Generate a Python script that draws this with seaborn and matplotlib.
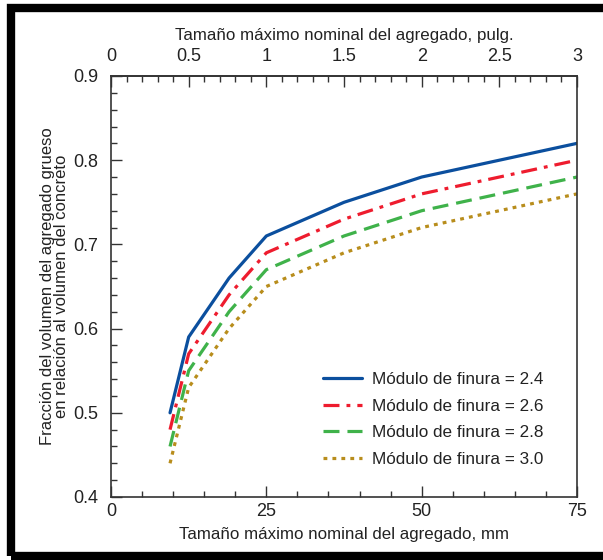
import matplotlib
matplotlib.use("Agg")
import matplotlib.pyplot as plt
from matplotlib.patches import Rectangle
from matplotlib.ticker import MultipleLocator, FormatStrFormatter, FuncFormatter
import pandas as pd
import seaborn as sns

# Nominal maximum aggregate size (mm) and bulk volume fraction of coarse aggregate
sizes_mm = [9.5, 12.5, 19, 25, 37.5, 50, 75]
fm_24 = [0.50, 0.59, 0.66, 0.71, 0.75, 0.78, 0.82]
fm_26 = [0.48, 0.57, 0.64, 0.69, 0.73, 0.76, 0.80]
fm_28 = [0.46, 0.55, 0.62, 0.67, 0.71, 0.74, 0.78]
fm_30 = [0.44, 0.53, 0.60, 0.65, 0.69, 0.72, 0.76]
series_labels = ["Módulo de finura = 2.4", "Módulo de finura = 2.6",
                 "Módulo de finura = 2.8", "Módulo de finura = 3.0"]

sns.set_theme(style="white")
plt.rcParams["font.family"] = ["Liberation Sans", "DejaVu Sans"]

rows = []
for lab, vals in zip(series_labels, [fm_24, fm_26, fm_28, fm_30]):
    for s, v in zip(sizes_mm, vals):
        rows.append({"size": s, "frac": v, "serie": lab})
df = pd.DataFrame(rows)

palette = dict(zip(series_labels, ["#0b4f9e", "#ee1c2e", "#3fb24a", "#b88d1c"]))
dashes = dict(zip(series_labels, ["", (5, 2.2, 1.2, 2.2), (5, 2.5), (1.2, 1.6)]))

fig = plt.figure(figsize=(6.03, 5.60), dpi=100)
ax = fig.add_axes([111 / 603, 1 - 497 / 560, 466 / 603, 421 / 560])

sns.lineplot(data=df, x="size", y="frac", hue="serie", style="serie",
             palette=palette, dashes=dashes, linewidth=2.3, ax=ax,
             legend=True)

ax.set_xlim(0, 75)
ax.set_ylim(0.4, 0.9)
ax.xaxis.set_major_locator(MultipleLocator(25))
ax.xaxis.set_minor_locator(MultipleLocator(5))
ax.yaxis.set_major_locator(MultipleLocator(0.1))
ax.yaxis.set_minor_locator(MultipleLocator(0.02))
ax.yaxis.set_major_formatter(FormatStrFormatter("%.1f"))
ax.tick_params(which="both", direction="in", bottom=True, left=True,
               top=False, right=False, colors="#333333", labelcolor="#222222",
               labelsize=13)
ax.tick_params(axis="y", which="major", pad=9)
ax.tick_params(axis="x", which="major", pad=4)
ax.tick_params(which="major", length=8, width=1)
ax.tick_params(which="minor", length=4, width=1)
for sp in ax.spines.values():
    sp.set_visible(True)
    sp.set_color("#333333")
    sp.set_linewidth(1.2)

ax.set_xlabel("Tamaño máximo nominal del agregado, mm", fontsize=12.2,
              color="#222222", labelpad=5)
ax.set_ylabel("Fracción del volumen del agregado grueso\nen relación al volumen del concreto",
              fontsize=12, color="#222222", labelpad=3, linespacing=0.92)

# Inch scale along the top edge (1 in taken as 25 mm)
secax = ax.secondary_xaxis("top", functions=(lambda x: x / 25, lambda x: x * 25))
secax.xaxis.set_major_locator(MultipleLocator(0.5))
secax.xaxis.set_minor_locator(MultipleLocator(0.1))
secax.xaxis.set_major_formatter(FuncFormatter(lambda v, p: f"{v:g}"))
secax.tick_params(which="both", direction="in", colors="#333333",
                  labelcolor="#222222", labelsize=13)
secax.tick_params(which="major", length=8, width=1, pad=8)
secax.tick_params(which="minor", length=4, width=1)
secax.spines["top"].set_color("#333333")
secax.set_xlabel("Tamaño máximo nominal del agregado, pulg.", fontsize=12.2,
                 color="#222222", labelpad=6)

leg = ax.legend(loc="lower right", bbox_to_anchor=(0.962, 0.035), frameon=False,
                fontsize=12.3, handlelength=2.3, handletextpad=0.6,
                labelspacing=0.68, title=None)
for t in leg.get_texts():
    t.set_color("#222222")

# Black frame around the whole figure (right side runs past the edge)
fig.patches.append(Rectangle((11 / 603, 4 / 560), 620 / 603, 548 / 560,
                             transform=fig.transFigure, fill=False,
                             edgecolor="black", linewidth=6))

fig.savefig("out.png", dpi=100)
